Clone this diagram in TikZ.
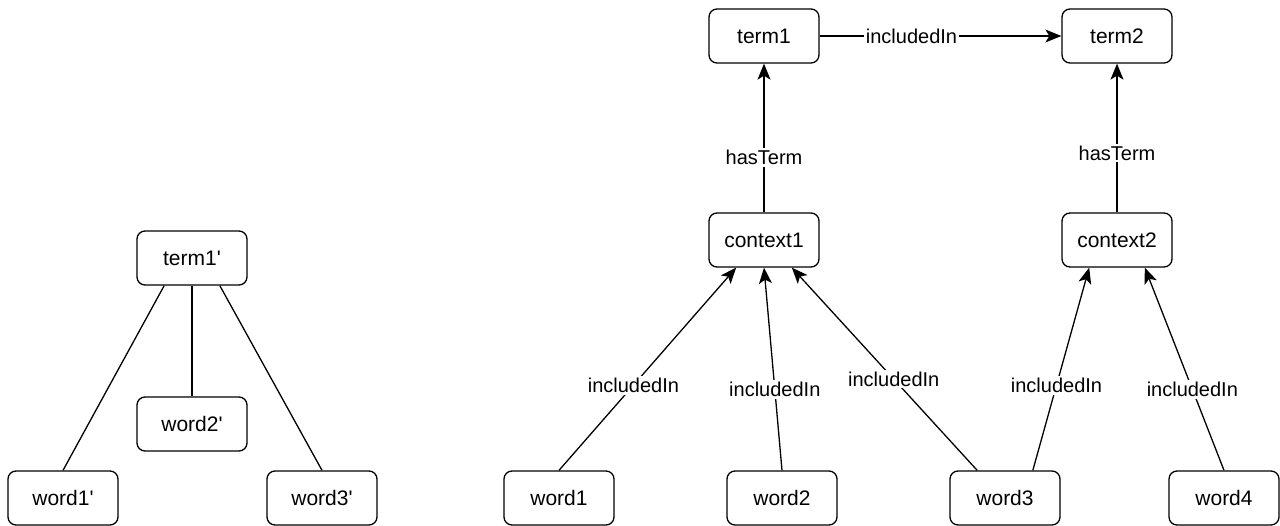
\documentclass[tikz,border=0pt]{standalone}
\usepackage{fontspec}
\setmainfont{Liberation Sans}
\usetikzlibrary{arrows.meta,calc}

\begin{document}
\begin{tikzpicture}[x=1pt, y=-1pt,
	box/.style={draw, rounded corners=8pt, line width=1.3pt, minimum width=110pt, minimum height=54pt, font=\fontsize{21}{25}\selectfont},
	link/.style={line width=1.3pt},
	arrow/.style={line width=1.3pt, -{Stealth[length=16pt, width=13pt, inset=4pt]}},
	lbl/.style={fill=white, inner sep=2pt, font=\fontsize{20}{24}\selectfont}]
	\useasboundingbox (0,0) rectangle (1280,526);
	% left tree
	\node[box] (term1p) at (192,258) {term1\textquotesingle};
	\node[box] (word2p) at (192,424) {word2\textquotesingle};
	\node[box] (word1p) at (63,498) {word1\textquotesingle};
	\node[box] (word3p) at (322,498) {word3\textquotesingle};
	\draw[link] ($(term1p.south west)!0.25!(term1p.south east)$) -- (word1p.north);
	\draw[link] (term1p.south) -- (word2p.north);
	\draw[link] ($(term1p.south west)!0.75!(term1p.south east)$) -- (word3p.north);
	% right graph
	\node[box] (term1) at (764,36) {term1};
	\node[box] (term2) at (1117,36) {term2};
	\node[box] (context1) at (764,240) {context1};
	\node[box] (context2) at (1117,240) {context2};
	\node[box] (word1) at (559,498) {word1};
	\node[box] (word2) at (782,498) {word2};
	\node[box] (word3) at (1005,498) {word3};
	\node[box] (word4) at (1224,498) {word4};
	\draw[arrow] (term1.east) -- node[lbl, pos=0.38] {includedIn} (term2.west);
	\draw[arrow] (context1.north) -- node[lbl, pos=0.37] {hasTerm} (term1.south);
	\draw[arrow] (context2.north) -- node[lbl, pos=0.40] {hasTerm} (term2.south);
	\draw[arrow] (word1.north) -- node[lbl, pos=0.42] {includedIn} ($(context1.south west)!0.25!(context1.south east)$);
	\draw[arrow] (word2.north) -- node[lbl, pos=0.40] {includedIn} (context1.south);
	\draw[arrow] ($(word3.north west)!0.25!(word3.north east)$) -- node[lbl, pos=0.45] {includedIn} ($(context1.south west)!0.75!(context1.south east)$);
	\draw[arrow] ($(word3.north west)!0.75!(word3.north east)$) -- node[lbl, pos=0.42] {includedIn} ($(context2.south west)!0.25!(context2.south east)$);
	\draw[arrow] (word4.north) -- node[lbl, pos=0.40] {includedIn} ($(context2.south west)!0.75!(context2.south east)$);
\end{tikzpicture}
\end{document}
